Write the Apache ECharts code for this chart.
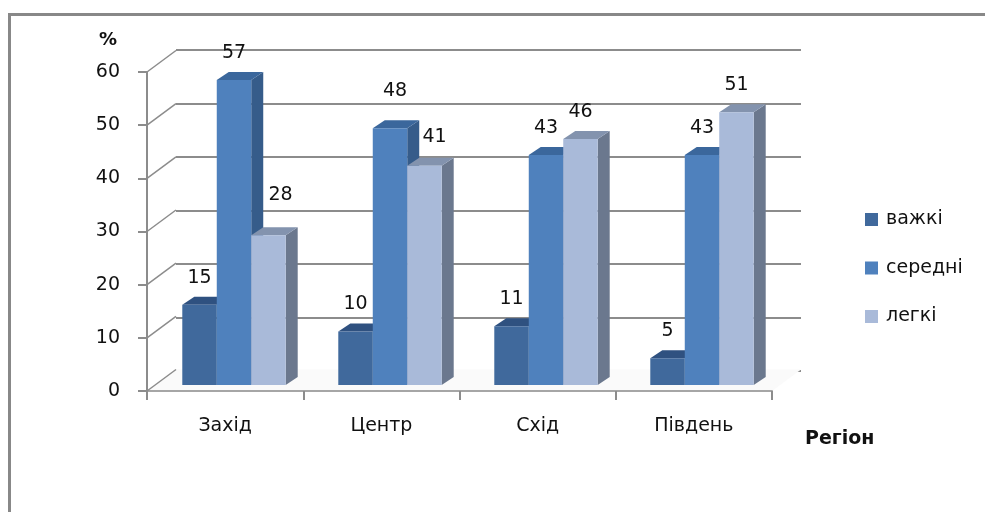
<!DOCTYPE html>
<html>
<head>
<meta charset="utf-8">
<script src="https://cdn.jsdelivr.net/npm/echarts@6/dist/echarts.min.js"></script>
<style>
  html, body { margin: 0; padding: 0; background: #fff; }
  #chart { width: 985px; height: 512px; }
</style>
</head>
<body>
<div id="chart"></div>
<script>
const regions = ['Захід', 'Центр', 'Схід', 'Південь'];
const seriesNames = ['важкі', 'середні', 'легкі'];
const heavy = [15, 10, 11, 5];
const medium = [57, 48, 43, 43];
const light = [28, 41, 46, 51];
const yTicks = [0, 10, 20, 30, 40, 50, 60];

const FONT = '"DejaVu Sans", sans-serif';
// depth of the box in pixels
const DEPTH_X = 29, DEPTH_Y = -21.5;
const BAR_DX = 12, BAR_DY = -8;
const GROUP = 0.663;

const faces = [
  { front: '#40699C', top: '#2F5180', side: '#2D4C75' },
  { front: '#4F81BD', top: '#3B679C', side: '#365C8A' },
  { front: '#A9BAD9', top: '#8393AE', side: '#6B788E' }
];
const allValues = [heavy, medium, light];

// a few labels were dragged by hand in the original (series-category -> [dx, dy])
const labelNudge = { '2-0': [12, -13], '1-1': [5, -10], '2-1': [10, -2] };

function barGeom(api, idx) {
  const cat = api.value(0), val = api.value(1);
  const base = api.coord([cat, 0]);
  const top = api.coord([cat, val]);
  const band = api.size([1, 0])[0];
  const bw = band * GROUP / 3;
  const x0 = base[0] - band * GROUP / 2 + idx * bw;
  return { x0, x1: x0 + bw, yb: base[1], yt: top[1], val, cat };
}

function barRenderer(idx) {
  return function (params, api) {
    const g = barGeom(api, idx);
    const c = faces[idx];
    return {
      type: 'group',
      children: [
        { type: 'polygon', shape: { points: [[g.x1, g.yb], [g.x1 + BAR_DX, g.yb + BAR_DY], [g.x1 + BAR_DX, g.yt + BAR_DY], [g.x1, g.yt]] }, style: { fill: c.side } },
        { type: 'polygon', shape: { points: [[g.x0, g.yt], [g.x1, g.yt], [g.x1 + BAR_DX, g.yt + BAR_DY], [g.x0 + BAR_DX, g.yt + BAR_DY]] }, style: { fill: c.top } },
        { type: 'rect', shape: { x: g.x0, y: g.yt, width: g.x1 - g.x0, height: g.yb - g.yt }, style: { fill: c.front } }
      ]
    };
  };
}

function labelRenderer(params, api) {
  const idx = api.value(2);
  const g = barGeom(api, idx);
  const n = labelNudge[idx + '-' + g.cat] || [0, 0];
  return {
    type: 'text',
    style: {
      text: String(g.val), x: (g.x0 + g.x1) / 2 + n[0], y: g.yt - 27 + n[1],
      align: 'center', verticalAlign: 'middle',
      fontSize: 19, fontFamily: FONT, fill: '#111'
    }
  };
}

function diagRenderer(params, api) {
  const v = api.value(0);
  const p = api.coord([0, v]);
  const cs = params.coordSys;
  const x = v === 'edge' ? cs.x + cs.width : cs.x;
  const y = api.coord([0, 0])[1];
  const yy = v === 'edge' ? y : p[1];
  return {
    type: 'line',
    shape: { x1: x, y1: yy, x2: x + DEPTH_X, y2: yy + DEPTH_Y },
    style: { stroke: '#8c8c8c', lineWidth: 1.5 }
  };
}

function floorRenderer(params, api) {
  const cs = params.coordSys;
  const y = api.coord([0, 0])[1];
  return {
    type: 'polygon',
    shape: { points: [[cs.x, y], [cs.x + cs.width, y], [cs.x + cs.width + DEPTH_X, y + DEPTH_Y], [cs.x + DEPTH_X, y + DEPTH_Y]] },
    style: { fill: '#fafafa' }
  };
}

const labelData = [];
allValues.forEach((arr, s) => arr.forEach((v, i) => labelData.push([i, v, s])));

const chart = echarts.init(document.getElementById('chart'));

chart.setOption({
  animation: false,
  backgroundColor: '#fff',
  grid: [
    { left: 176, top: 50, width: 625, height: 321 },  // back wall
    { left: 147, top: 72, width: 625, height: 319 },  // front axes
    { left: 156, top: 64, width: 624, height: 321 }   // bar plane
  ],
  xAxis: [
    { gridIndex: 0, type: 'category', data: regions, show: false },
    {
      gridIndex: 1, type: 'category', data: regions,
      axisLine: { lineStyle: { color: '#a6a6a6', width: 2 } },
      axisTick: { show: true, length: 9, lineStyle: { color: '#8c8c8c', width: 2 } },
      axisLabel: { margin: 26, fontSize: 19, fontFamily: FONT, color: '#111' }
    },
    { gridIndex: 2, type: 'category', data: regions, show: false }
  ],
  yAxis: [
    {
      gridIndex: 0, type: 'value', min: 0, max: 60, interval: 10,
      axisLine: { show: false }, axisTick: { show: false }, axisLabel: { show: false },
      splitLine: { lineStyle: { color: '#8c8c8c', width: 2 } }
    },
    {
      gridIndex: 1, type: 'value', min: 0, max: 60, interval: 10,
      axisLine: { show: true, lineStyle: { color: '#8c8c8c', width: 2 } },
      axisTick: { show: true, length: 9, lineStyle: { color: '#8c8c8c', width: 2 } },
      axisLabel: { margin: 27, fontSize: 19, fontFamily: FONT, color: '#111' },
      splitLine: { show: false }
    },
    { gridIndex: 2, type: 'value', min: 0, max: 60, show: false, splitLine: { show: false } }
  ],
  legend: {
    orient: 'vertical', left: 865, top: 210,
    itemWidth: 13, itemHeight: 13, itemGap: 29.5, padding: 0,
    icon: 'rect',
    textStyle: { fontSize: 19, fontFamily: FONT, color: '#111', padding: [0, 0, 0, 3] },
    data: seriesNames
  },
  graphic: [
    { type: 'rect', left: 7, top: 12, shape: { width: 1000, height: 600 }, style: { fill: 'none', stroke: '#888', lineWidth: 3 } },
    { type: 'text', left: 99, top: 31, style: { text: '%', fontSize: 18, fontWeight: 'bold', fontFamily: FONT, fill: '#111' } },
    { type: 'text', left: 805, top: 430, style: { text: 'Регіон', fontSize: 19, fontWeight: 'bold', fontFamily: FONT, fill: '#111' } }
  ],
  series: [
    { type: 'custom', xAxisIndex: 1, yAxisIndex: 1, z: 0, silent: true, renderItem: floorRenderer, data: [[0]] },
    { type: 'custom', xAxisIndex: 1, yAxisIndex: 1, z: 1, silent: true, renderItem: diagRenderer, data: yTicks.map(v => [v]).concat([['edge']]) },
    ...seriesNames.map((name, s) => ({
      name, type: 'custom', xAxisIndex: 2, yAxisIndex: 2, z: 3 + s,
      itemStyle: { color: faces[s].front },
      renderItem: barRenderer(s),
      data: allValues[s].map((v, i) => [i, v])
    })),
    { type: 'custom', xAxisIndex: 2, yAxisIndex: 2, z: 10, silent: true, renderItem: labelRenderer, data: labelData }
  ]
});
</script>
</body>
</html>
